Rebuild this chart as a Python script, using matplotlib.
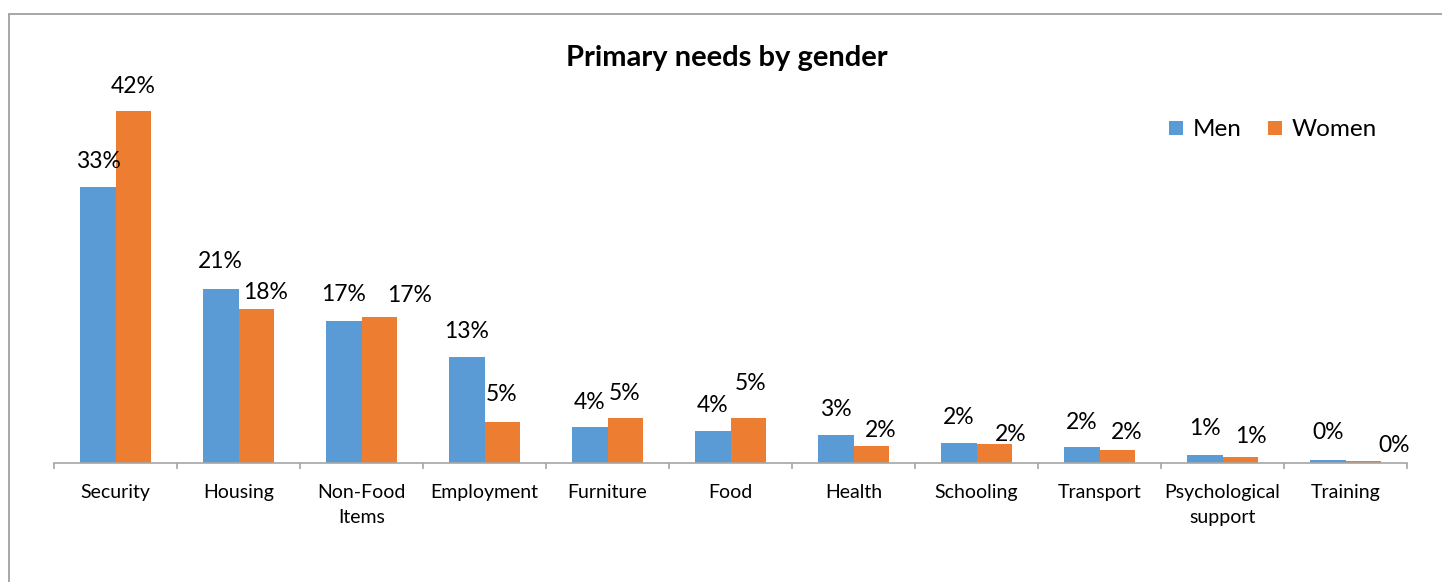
import numpy as np
import matplotlib.pyplot as plt
from matplotlib.patches import Rectangle

plt.rcParams['font.family'] = ['Lato', 'DejaVu Sans']

categories = ["Security", "Housing", "Non-Food\nItems", "Employment", "Furniture",
              "Food", "Health", "Schooling", "Transport", "Psychological\nsupport", "Training"]
men = [33.0, 20.8, 17.0, 12.7, 4.3, 3.8, 3.3, 2.4, 1.9, 1.0, 0.4]
women = [42.0, 18.4, 17.4, 4.9, 5.4, 5.4, 2.0, 2.3, 1.6, 0.7, 0.2]

# label nudges in pixels (x, y) relative to the top of each bar
men_dx = [0, -1, 0, 0, 0, 0, 0, 0, 0, 0, 0]
men_dy = [-25, -27, -26, -25, -25, -26, -26, -25, -25, -26, -27]
women_dx = [0, 10, 31, 0, 0, 3, 10, 17, 10, 11, 31]
women_dy = [-25, -16, -22, -27, -24, -34, -16, -9, -17, -21, -16]

blue = '#5B9BD5'
orange = '#ED7D31'
grey = '#A6A6A6'

W, H = 1442, 582
fig = plt.figure(figsize=(W / 100, H / 100), dpi=100)

# chart frame (runs off the right and bottom edges)
fig.patches.append(Rectangle((9 / W, -0.1), 1.2, 1.1 - 14 / H, transform=fig.transFigure,
                             fill=False, edgecolor='#A0A0A0', lw=1.3))

ymax = 45
px_per = 8.37
ax = fig.add_axes([54 / W, (H - 463) / H, (1407 - 54) / W, ymax * px_per / H])

x = np.arange(len(categories))
bw = 0.285
ax.bar(x - bw / 2, men, bw, color=blue, label='Men')
ax.bar(x + bw / 2, women, bw, color=orange, label='Women')

for i in range(len(categories)):
    ax.annotate(f"{men[i]:.0f}%", (x[i] - bw / 2, men[i]), xytext=(men_dx[i], -men_dy[i]),
                textcoords='offset pixels', ha='center', va='center', fontsize=16.5)
    ax.annotate(f"{women[i]:.0f}%", (x[i] + bw / 2, women[i]), xytext=(women_dx[i], -women_dy[i]),
                textcoords='offset pixels', ha='center', va='center', fontsize=16.5)

ax.set_xlim(-0.5, len(categories) - 0.5)
ax.set_ylim(0, ymax)
ax.set_yticks([])
for s in ['top', 'right', 'left']:
    ax.spines[s].set_visible(False)
ax.spines['bottom'].set_color(grey)
ax.spines['bottom'].set_linewidth(1.2)

ax.set_xticks(x)
ax.set_xticklabels(categories, fontsize=14, linespacing=1.6)
ax.tick_params(axis='x', which='major', length=0, pad=15)
ax.set_xticks(np.arange(-0.5, len(categories)), minor=True)
ax.tick_params(axis='x', which='minor', length=4.5, color=grey, width=1.2)

fig.text(727 / W, 1 - 58 / H, "Primary needs by gender", ha='center', va='center',
         fontsize=21, fontweight='bold')

ax.legend(loc='center', bbox_to_anchor=(1273 / W, 1 - 130 / H), bbox_transform=fig.transFigure,
          ncol=2, frameon=False, fontsize=17.5, handlelength=0.55, handleheight=0.55,
          handletextpad=0.4, columnspacing=1.1)

fig.savefig('out.png', dpi=100)
